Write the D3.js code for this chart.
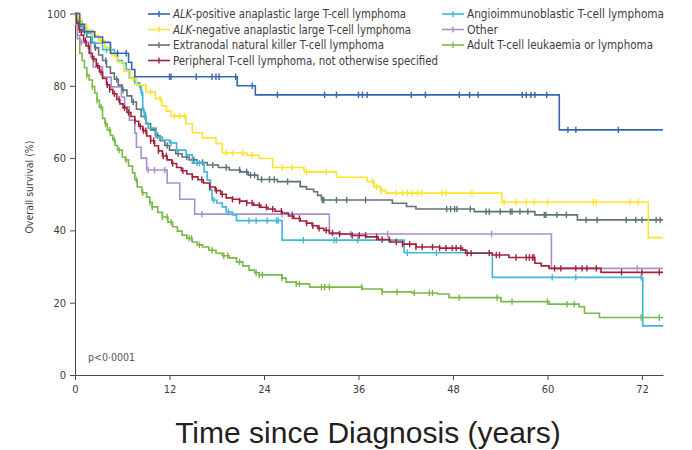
<!DOCTYPE html>
<html>
<head>
<meta charset="utf-8">
<script src="https://cdn.jsdelivr.net/npm/d3@7"></script>
<style>
  body { margin: 0; background: #fff; }
  svg { display: block; }
</style>
</head>
<body>
<svg id="chart" width="692" height="450"></svg>
<script>
// Overall survival (Kaplan–Meier) by T-cell lymphoma subtype.
// Each curve: step points [month, survival %]; censor marks: months.

const xTicks = [0, 12, 24, 36, 48, 60, 72];
const yTicks = [0, 20, 40, 60, 80, 100];
const lastMonth = 74.67;

const seriesNames = [
  "ALK-positive anaplastic large T-cell lymphoma",
  "ALK-negative anaplastic large T-cell lymphoma",
  "Extranodal natural killer T-cell lymphoma",
  "Peripheral T-cell lymphoma, not otherwise specified",
  "Angioimmunoblastic T-cell lymphoma",
  "Other",
  "Adult T-cell leukaemia or lymphoma"
];
const seriesColors = ["#3566b0", "#fde32c", "#5f727a", "#a3213b", "#3fb7da", "#a98fcf", "#79b947"];

const alkPosSteps = [[0,100],[0.6,97],[1.2,95],[2.5,93.5],[3.5,92],[4.5,89],[6.8,86.5],[7.2,84.5],[7.6,82.5],[20.6,80],[22.9,77.5],[61.5,67.8]];
const alkPosCensor = [5.4,6.5,12.0,12.2,15.4,17.4,17.9,18.3,20.4,22.5,25.7,31.7,33.2,36.0,36.5,37.1,42.7,44.5,48.8,50.1,51.2,56.8,57.3,57.9,58.4,59.9,62.6,63.6,69.0];

const alkNegSteps = [[0,100],[0.4,98.5],[0.8,97],[1.5,95.5],[2.2,94],[3,92.5],[3.8,90.5],[4.6,88.5],[5.4,86.5],[6.2,84],[7,82],[7.8,80.2],[9,78.3],[10.2,76.5],[11,74.5],[11.6,73],[12.2,71.6],[14.1,69.5],[14.9,67],[16.2,65.6],[17.9,64],[18.7,61.4],[21.8,60.8],[23.4,59.9],[25.1,57.4],[29.1,56.2],[33.2,54.7],[37.1,53.5],[38,52.1],[38.8,51],[39.5,50.3],[54.2,47.8],[72.8,38]];
const alkNegCensor = [3.2,5.1,7.4,9.6,10.8,12.6,13.3,13.9,19.2,20.0,21.3,22.5,26.3,27.6,29.4,31.9,37.8,38.3,38.9,40.8,41.6,42.2,42.8,43.5,44.0,46.6,47.1,50.4,54.5,56.0,57.3,58.3,60.0,65.8,66.2,70.5,71.5];

const enktlSteps = [[0,100],[0.3,98],[0.6,96.5],[1,95],[1.5,93.5],[2,92],[2.5,90.5],[3,88.5],[3.5,87],[4,85.2],[4.5,83.5],[5,81.8],[5.5,80.2],[6,78.8],[6.6,77.2],[7.2,75.5],[7.8,73.5],[8.4,71.5],[9,69.5],[9.6,67.8],[10.2,66.2],[10.8,64.8],[11.4,63.5],[12,62.2],[12.8,61.2],[13.6,60.3],[14.5,59.5],[15.5,58.8],[16.8,58.1],[18.2,57.4],[19.6,56.7],[21,56.2],[22,55.3],[23.2,54.1],[25.7,53.5],[28.6,52.1],[29.4,51.4],[30.3,50.7],[30.8,49.7],[31.3,48.4],[40.3,47.5],[42.1,46.6],[43.3,45.9],[50.7,45.2],[58.4,44.3],[63.8,42.9]];
const enktlCensor = [1.2,2.6,3.9,5.3,6.1,7.4,8.9,10.5,11.7,13.1,14.2,15.1,16.2,17.5,19.2,20.9,21.8,22.3,22.8,23.7,24.7,25.3,27.0,31.4,31.6,33.2,34.5,36.9,47.2,47.7,48.2,48.5,50.2,52.2,52.6,54.0,55.3,55.5,56.5,57.5,59.6,59.8,61.2,62.4,64.9,66.3,70.0,71.2,72.0,73.8,74.3];

const ptclSteps = [[0,100],[0.2,97.4],[0.5,95.5],[0.8,94],[1.1,92.5],[1.4,91],[1.8,89],[2.2,87.4],[2.7,85.5],[3.1,83.8],[3.5,82],[4,80.3],[4.4,79],[4.8,77.8],[5.3,76.2],[5.7,75],[6.1,73.9],[6.6,72.6],[7.1,71.5],[7.6,70.2],[8.1,68.8],[8.6,67.6],[9.1,66.1],[9.6,64.8],[10.1,63.4],[10.6,62],[11.1,60.6],[11.7,59.5],[12.3,58.5],[12.9,57.4],[13.5,56.5],[14.2,55.6],[14.9,54.8],[15.6,54],[16.3,53.1],[17.1,52],[17.8,51],[18.5,50],[19.2,49],[20,48.6],[20.9,48.1],[21.8,47.6],[22.7,47],[23.6,46.4],[24.5,45.9],[25.4,45.3],[26.3,44.8],[27.1,44],[27.8,43.3],[28.6,42.6],[29.4,42],[30.1,41.3],[30.8,40.6],[31.6,40],[32.3,39.3],[33.6,39],[35.2,38.6],[37,38.2],[38.5,37.5],[40,36.8],[41.6,36.2],[43.3,35.4],[46.3,35.1],[49.2,34.6],[49.6,33.7],[53,33.2],[55.1,32.5],[58.4,30.9],[59.2,30.2],[60.2,29.5],[66.8,28.4]];
const ptclCensor = [0.6,1.3,1.7,2.4,2.9,3.3,4.1,4.4,5.0,5.6,6.3,6.8,7.6,8.3,8.7,9.0,9.6,10.0,10.6,11.2,11.6,12.4,13.7,14.9,16.1,17.1,17.95,18.7,20.0,20.9,21.8,22.5,23.4,24.3,25.1,26.2,27.6,28.5,29.4,30.2,31.0,31.9,32.7,33.6,35.2,36.1,36.9,38.3,39.0,39.9,40.8,41.6,42.5,43.3,44.1,45.4,46.3,47.1,47.9,48.4,49.0,49.8,50.3,52.6,53.5,53.9,56.0,57.3,57.7,58.1,58.3,60.9,61.7,63.6,64.4,65.0,66.2,69.4,72.0,74.2];

const aitlSteps = [[0,100],[0.4,98],[0.9,96],[1.5,94.5],[2.2,91.8],[3.5,90],[5,88.5],[5.4,87],[6,86.3],[6.5,84.5],[6.9,82.2],[7.6,80.8],[8.2,79.7],[8.4,78],[8.6,73.3],[8.8,71.9],[9,69.7],[9.3,68.3],[10.3,65.8],[11.1,65],[12,64.2],[12.9,62.2],[14.1,60.9],[14.9,58.6],[16.4,56.2],[16.8,53.9],[17.2,51.2],[17.4,48.4],[18,47.6],[18.7,46.5],[19.2,45.1],[20,44.3],[20.5,42.7],[26.3,37.3],[41.8,33.8],[53,27.0],[72.1,13.6]];
const aitlCensor = [4.0,4.6,8.3,8.5,8.7,8.95,12.2,15.5,15.8,17.6,19.5,22.1,23.0,24.4,25.6,25.8,29.0,32.9,33.2,35.9,42.2,45.9,60.6,63.6,71.9];

const otherSteps = [[0,100],[0.3,94],[0.6,92],[2,88],[2.3,85.2],[3.5,82.4],[4.6,79.7],[5.9,76.9],[6.3,74.1],[6.9,70.5],[7.6,66.9],[7.8,63],[8.4,60],[9.1,56.7],[11.7,53.1],[13.3,48.6],[15.2,44.5],[32.3,39],[60.5,29.5]];
const otherCensor = [0.8,9.3,10.1,11.4,16.1,26.3,27.6,35.0,39.7,52.9,71.4];

const atllSteps = [[0,100],[0.1,97],[0.3,93],[0.6,89],[0.9,87],[1.2,85],[1.5,83],[1.8,81.6],[2.2,79.8],[2.5,78],[2.8,76],[3.1,74.1],[3.5,71],[3.8,69.5],[4.1,67.8],[4.5,66.3],[4.8,65],[5.1,63.5],[5.4,62.2],[6,60.3],[6.4,59.5],[6.8,57.8],[7.3,55.9],[7.6,54],[7.9,52],[8.5,50.4],[9.1,49.2],[9.5,47.8],[9.8,46.5],[10.5,45],[11.1,43.7],[11.8,42.3],[12.4,41],[13,39.8],[13.6,38.7],[14.2,37.8],[14.9,36.8],[15.5,36],[16.2,35.4],[17,34.5],[17.9,33.7],[18.7,33],[19.6,32.4],[20.5,31.3],[21.3,30.2],[22.1,29],[22.8,28.3],[23.4,27.7],[26.3,26.8],[26.8,25.7],[28.1,25.2],[29.8,24.3],[36.5,23.8],[39,23],[42.8,22.7],[46,22.4],[47.5,21.4],[54.1,20.3],[60.2,19.6],[64,18.9],[64.7,17.1],[66.6,15.9]];
const atllCensor = [1.5,2.2,2.8,3.3,3.9,4.4,5.0,5.6,6.5,7.8,8.6,9.5,9.8,11.1,11.7,12.2,14.5,14.8,15.8,17.4,18.9,19.4,20.9,23.0,23.4,23.8,26.3,28.1,28.5,31.3,31.7,32.3,36.4,39.0,40.9,43.1,45.0,45.4,48.8,53.6,55.5,60.0,62.5,63.4,71.9,74.2];

const stepSets = [alkPosSteps, alkNegSteps, enktlSteps, ptclSteps, aitlSteps, otherSteps, atllSteps];
const censorSets = [alkPosCensor, alkNegCensor, enktlCensor, ptclCensor, aitlCensor, otherCensor, atllCensor];

const svg = d3.select("#chart");
const narrow = "'Liberation Sans Narrow', 'DejaVu Sans Condensed', 'Liberation Sans', sans-serif";
const inkGrey = "#3d3d3d";

const x = d3.scaleLinear().domain([0, lastMonth]).range([75, 663]);
const y = d3.scaleLinear().domain([0, 100]).range([375, 13.5]);

// axes
const xAxis = svg.append("g")
  .attr("transform", `translate(0,${y(0)})`)
  .call(d3.axisBottom(x).tickValues(xTicks).tickSize(5).tickSizeOuter(0).tickPadding(5));
const yAxis = svg.append("g")
  .attr("transform", `translate(${x(0)},0)`)
  .call(d3.axisLeft(y).tickValues(yTicks).tickSize(5).tickSizeOuter(0).tickPadding(4));
[xAxis, yAxis].forEach(g => {
  g.attr("font-family", narrow).attr("font-size", 11);
  g.selectAll("path, line").attr("stroke", "#4a4a4a").attr("stroke-width", 1);
  g.selectAll("text").attr("fill", inkGrey);
});

// axis caption and statistic
svg.append("text")
  .attr("transform", `translate(33,${y(52)}) rotate(-90)`)
  .attr("text-anchor", "middle")
  .attr("font-family", narrow).attr("font-size", 10.5)
  .attr("fill", inkGrey)
  .text("Overall survival (%)");

svg.append("text")
  .attr("x", 88).attr("y", 361)
  .attr("font-family", narrow).attr("font-size", 10.5)
  .attr("fill", "#555")
  .text("p<0·0001");

svg.append("text")
  .attr("x", 368).attr("y", 443)
  .attr("text-anchor", "middle")
  .attr("font-family", "'Liberation Sans', Arial, sans-serif")
  .attr("font-size", 30)
  .attr("fill", "#231f20")
  .text("Time since Diagnosis (years)");

// survival curves
function survivalAt(steps, t) {
  let v = steps[0][1];
  for (const [st, sv] of steps) { if (st <= t) v = sv; else break; }
  return v;
}
const stepLine = d3.line().x(d => x(d[0])).y(d => y(d[1])).curve(d3.curveStepAfter);

const curves = svg.append("g").attr("fill", "none");
const drawOrder = [6, 5, 2, 4, 3, 1, 0];
drawOrder.forEach(i => {
  const steps = stepSets[i];
  const pts = steps.concat([[lastMonth, steps[steps.length - 1][1]]]);
  const g = curves.append("g").attr("stroke", seriesColors[i]);
  g.append("path").attr("d", stepLine(pts)).attr("stroke-width", 1.6);
  g.selectAll("line.censor").data(censorSets[i]).join("line")
    .attr("class", "censor")
    .attr("x1", d => x(d)).attr("x2", d => x(d))
    .attr("y1", d => y(survivalAt(steps, d)) - 3.2)
    .attr("y2", d => y(survivalAt(steps, d)) + 3.2)
    .attr("stroke-width", 1.4);
});

// legend, two columns
const legendCols = [148, 442];
const legendRows = [14, 29.5, 45, 60.5];
const legendTextWidths = [233, 238, 211, 265, 197, 31, 186];
const legend = svg.append("g");
seriesNames.forEach((name, i) => {
  const col = i < 4 ? 0 : 1;
  const row = i < 4 ? i : i - 4;
  const lx = legendCols[col], ly = legendRows[row];
  const item = legend.append("g").attr("transform", `translate(${lx},${ly})`);
  item.append("line").attr("x1", 0).attr("x2", 22).attr("y1", 0).attr("y2", 0)
    .attr("stroke", seriesColors[i]).attr("stroke-width", 1.6);
  item.append("line").attr("x1", 11).attr("x2", 11).attr("y1", -3).attr("y2", 3)
    .attr("stroke", seriesColors[i]).attr("stroke-width", 1.4);
  const t = item.append("text").attr("x", 25).attr("y", 4.3)
    .attr("font-family", narrow).attr("font-size", 12).attr("fill", inkGrey)
    .attr("textLength", legendTextWidths[i]).attr("lengthAdjust", "spacingAndGlyphs");
  if (name.startsWith("ALK")) {
    t.append("tspan").attr("font-style", "italic").text("ALK");
    t.append("tspan").text(name.slice(3));
  } else {
    t.text(name);
  }
});
</script>
</body>
</html>
